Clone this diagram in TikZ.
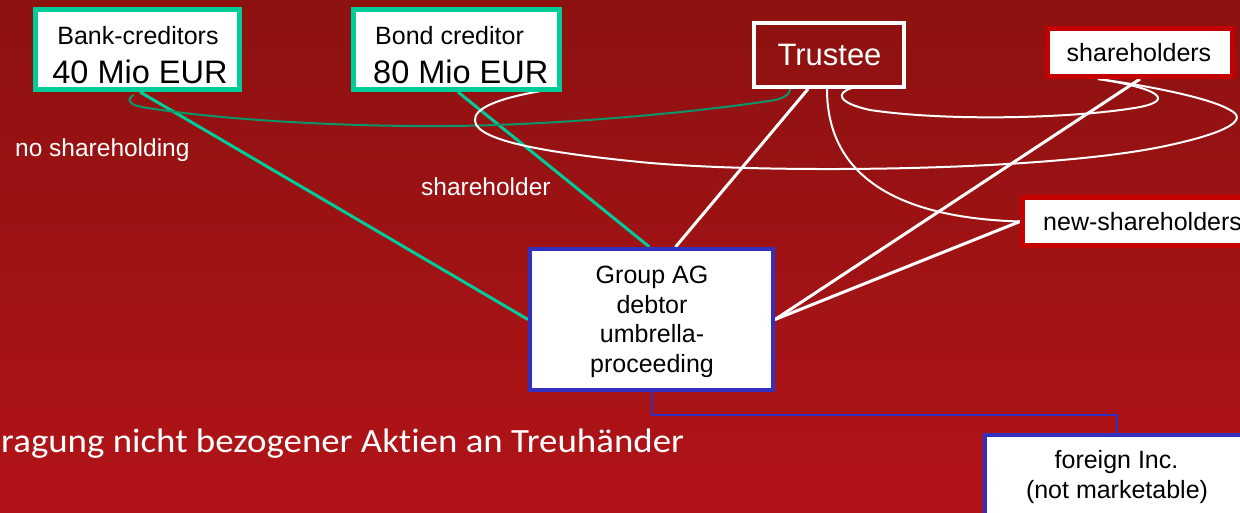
\documentclass[tikz,border=0pt]{standalone}
\usepackage{fontspec}
\setmainfont{Liberation Sans}
\newfontfamily\carlfont[Ligatures=NoCommon]{Carlito}
\newcommand\fsz[1]{\fontsize{#1}{#1}\selectfont}
\definecolor{bgtop}{RGB}{140,18,16}
\definecolor{bgbot}{RGB}{178,19,24}
\definecolor{boxgreen}{RGB}{0,204,153}
\definecolor{darkgreen}{RGB}{10,150,105}
\definecolor{boxred}{RGB}{196,0,0}
\definecolor{boxblue}{RGB}{50,48,190}
\pgfdeclarelayer{back}
\pgfdeclarelayer{edges}
\pgfsetlayers{back,edges,main}
\tikzset{
  gbox/.style={draw=boxgreen,line width=5pt,fill=white,inner sep=0pt},
  rbox/.style={draw=boxred,line width=5pt,fill=white,inner sep=0pt},
  bbox/.style={draw=boxblue,line width=4pt,fill=white,inner sep=0pt},
  wbox/.style={draw=white,line width=4pt,inner sep=0pt},
  txt/.style={text=black,inner sep=0pt,font=\fsz{25}},
  bigtxt/.style={text=black,inner sep=0pt,font=\fsz{32.5}},
  wtxt/.style={text=white,inner sep=0pt,font=\fsz{24.5}},
  gline/.style={draw=boxgreen,line width=3pt},
  wline/.style={draw=white,line width=3pt},
  wcurve/.style={draw=white,line width=2pt},
  dgcurve/.style={draw=darkgreen,line width=2pt},
  bline/.style={draw=boxblue,line width=2pt},
}
\begin{document}
\begin{tikzpicture}[x=1pt,y=-1pt]
\useasboundingbox (0,0) rectangle (1240,512);
\clip (0,0) rectangle (1240,512);
\begin{pgfonlayer}{back}
\shade[top color=bgtop,bottom color=bgbot] (0,0) rectangle (1240,512);
\end{pgfonlayer}

% boxes
\node[gbox,minimum width=204pt,minimum height=80pt] (bank) at (137.5,49.5) {};
\node[txt,anchor=base] (bank1) at (138,44) {Bank-creditors};
\node[bigtxt,anchor=base] (bank2) at (140,83) {40 Mio EUR};

\node[gbox,minimum width=206pt,minimum height=80pt] (bond) at (456.5,49.5) {};
\node[txt,anchor=base west] (bond1) at (375,44) {Bond creditor};
\node[bigtxt,anchor=base west] (bond2) at (373,83) {80 Mio EUR};

\node[wbox,minimum width=150pt,minimum height=64pt] (trustee) at (829,55) {};
\node[text=white,inner sep=0pt,font=\fsz{31},anchor=base] (trustee1) at (829.5,65) {Trustee};

\node[rbox,minimum width=185pt,minimum height=48pt] (sh) at (1140,52.5) {};
\node[txt,anchor=base] (sh1) at (1139,61) {shareholders};

\node[rbox,minimum width=277pt,minimum height=48pt] (newsh) at (1161,221.5) {};
\node[txt,anchor=base west] (newsh1) at (1043,230) {new-shareholders};

\node[bbox,minimum width=243pt,minimum height=141pt] (group) at (651.5,319.5) {};
\node[txt,anchor=base] (g1) at (652,283) {Group AG};
\node[txt,anchor=base] (g2) at (652,313) {debtor};
\node[txt,anchor=base] (g3) at (652,342.5) {umbrella-};
\node[txt,anchor=base] (g4) at (652,372) {proceeding};

\node[bbox,minimum width=315pt,minimum height=125pt] (foreign) at (1142.5,497.5) {};
\node[txt,anchor=base] (f1) at (1116.5,468) {foreign Inc.};
\node[txt,anchor=base] (f2) at (1117,498) {(not marketable)};

% free labels
\node[wtxt,anchor=base west] (noshare) at (15,156) {no shareholding};
\node[wtxt,anchor=base west] (share) at (421,195) {shareholder};
\node[text=white,inner sep=0pt,font=\carlfont\fsz{34},anchor=base west] (bottom) at (1,452) {\scalebox{1.085}[1]{ragung nicht bezogener Aktien an Treuhänder}};

% named free ends
\coordinate (dgA) at (134,95);
\coordinate (bigA) at (541,91);
\coordinate (shEnd) at ([xshift=-42pt]sh.south);
\coordinate (smA) at (852,88);
\coordinate (fin) at (1116.5,435);

\begin{pgfonlayer}{edges}
\draw[gline] ([xshift=2.5pt]bank.south) -- (group.west);
\draw[gline] ([xshift=1.5pt]bond.south) -- ([xshift=-2pt]group.north);
\draw[wline] ([xshift=-21pt]trustee.south) -- ([xshift=24pt]group.north);
\draw[wline] (sh.south) -- (group.east);
\draw[wline] (newsh.west) -- (group.east);
\draw[wcurve] ([xshift=-2pt]trustee.south) .. controls (827,178) and (900,218) .. (newsh.west);
\draw[dgcurve] (dgA) .. controls (127,98) and (128,103) .. (137,106)
   .. controls (200,118) and (330,127) .. (450,126)
   .. controls (560,125) and (700,112) .. (775,100)
   .. controls (787,97) and (790,93) .. ([xshift=-39pt]trustee.south);
\draw[wcurve] (bigA) .. controls (500,98) and (473,108) .. (475,121)
   .. controls (477,140) and (540,152) .. (640,162)
   .. controls (760,174) and (1050,172) .. (1170,145)
   .. controls (1225,133) and (1250,120) .. (1230,110)
   .. controls (1210,98) and (1150,86) .. (shEnd);
\draw[wcurve] (smA) .. controls (835,93) and (838,103) .. (870,110)
   .. controls (950,122) and (1080,118) .. (1140,107)
   .. controls (1175,100) and (1158,88) .. (shEnd);
\draw[bline] (group.south) -- ++(0,23) -| (fin);
\end{pgfonlayer}
\end{tikzpicture}
\end{document}
